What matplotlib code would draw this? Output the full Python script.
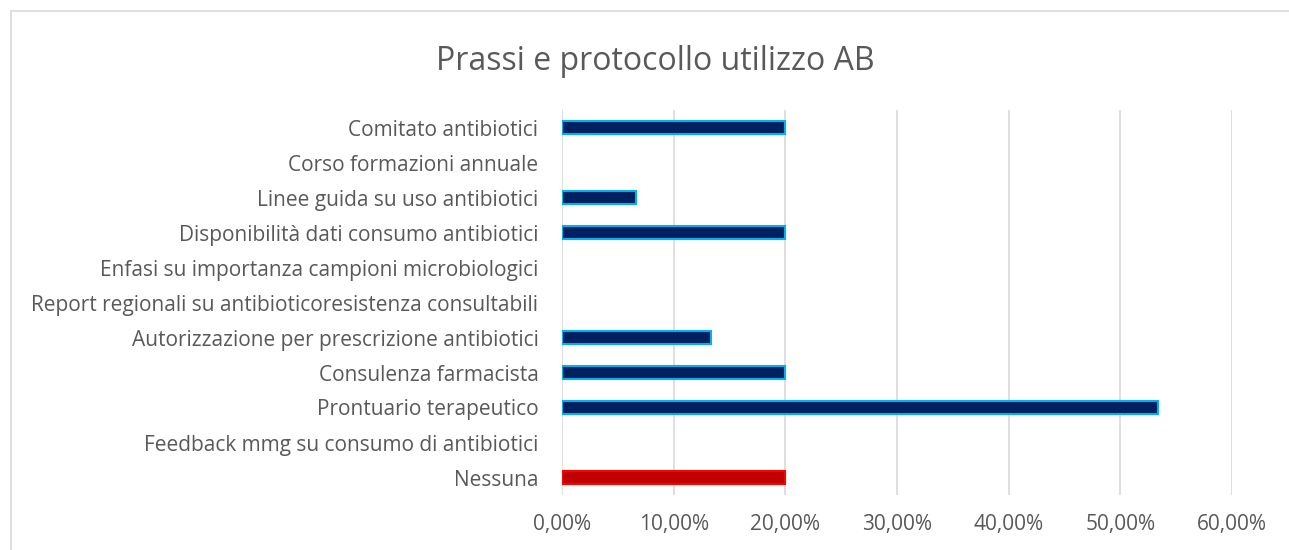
import matplotlib.pyplot as plt
from matplotlib.patches import Rectangle
from matplotlib.ticker import FuncFormatter

# data, top to bottom as in the chart
categories = [
    "Comitato antibiotici",
    "Corso formazioni annuale",
    "Linee guida su uso antibiotici",
    "Disponibilità dati consumo antibiotici",
    "Enfasi su importanza campioni microbiologici",
    "Report regionali su antibioticoresistenza consultabili",
    "Autorizzazione per prescrizione antibiotici",
    "Consulenza farmacista",
    "Prontuario terapeutico",
    "Feedback mmg su consumo di antibiotici",
    "Nessuna",
]
values = [0.20, 0.0, 0.0667, 0.20, 0.0, 0.0, 0.1333, 0.20, 0.5333, 0.0, 0.20]
highlight = ["Nessuna"]

NAVY = "#002060"
CYAN = "#00B0F0"
RED_FILL = "#C00000"
RED_EDGE = "#FF0000"
GRID = "#D9D9D9"
TEXT = "#595959"

plt.rcParams["font.family"] = ["Open Sans", "DejaVu Sans"]

fig = plt.figure(figsize=(12.89, 5.5), dpi=100)
# chart frame like Excel
fig.patches.append(Rectangle((11 / 1289, -0.01), 1.0, 1 - 11 / 550 + 0.01,
                             transform=fig.transFigure, fill=False,
                             edgecolor="#D9D9D9", linewidth=1.2))

ax = fig.add_axes([562 / 1289, 1 - 495 / 550, (1232 - 562) / 1289, (495 - 110) / 550])

ypos = list(range(len(categories)))[::-1]
colors = [RED_FILL if c in highlight else NAVY for c in categories]
edges = [RED_EDGE if c in highlight else CYAN for c in categories]
for y, v, fc, ec in zip(ypos, values, colors, edges):
    if v > 0:
        ax.barh(y, v, height=0.38, color=fc, edgecolor=ec, linewidth=1.5, zorder=3)

ax.set_xlim(0, 0.6)
ax.set_ylim(-0.5, len(categories) - 0.5)
ax.set_xticks([0, 0.1, 0.2, 0.3, 0.4, 0.5, 0.6])
ax.xaxis.set_major_formatter(FuncFormatter(lambda x, p: f"{x * 100:.2f}%".replace(".", ",")))
ax.set_yticks(ypos)
ax.set_yticklabels(categories)
ax.tick_params(axis="both", length=0, labelsize=15, colors=TEXT)
ax.tick_params(axis="y", pad=17)
ax.tick_params(axis="x", pad=14)
ax.grid(axis="x", color=GRID, linewidth=1.2, zorder=0)
for s in ax.spines.values():
    s.set_visible(False)

fig.text(655 / 1289, 1 - 61 / 550, "Prassi e protocollo utilizzo AB", ha="center", va="center",
         fontsize=23, color=TEXT)

fig.savefig("out.png", dpi=100)
